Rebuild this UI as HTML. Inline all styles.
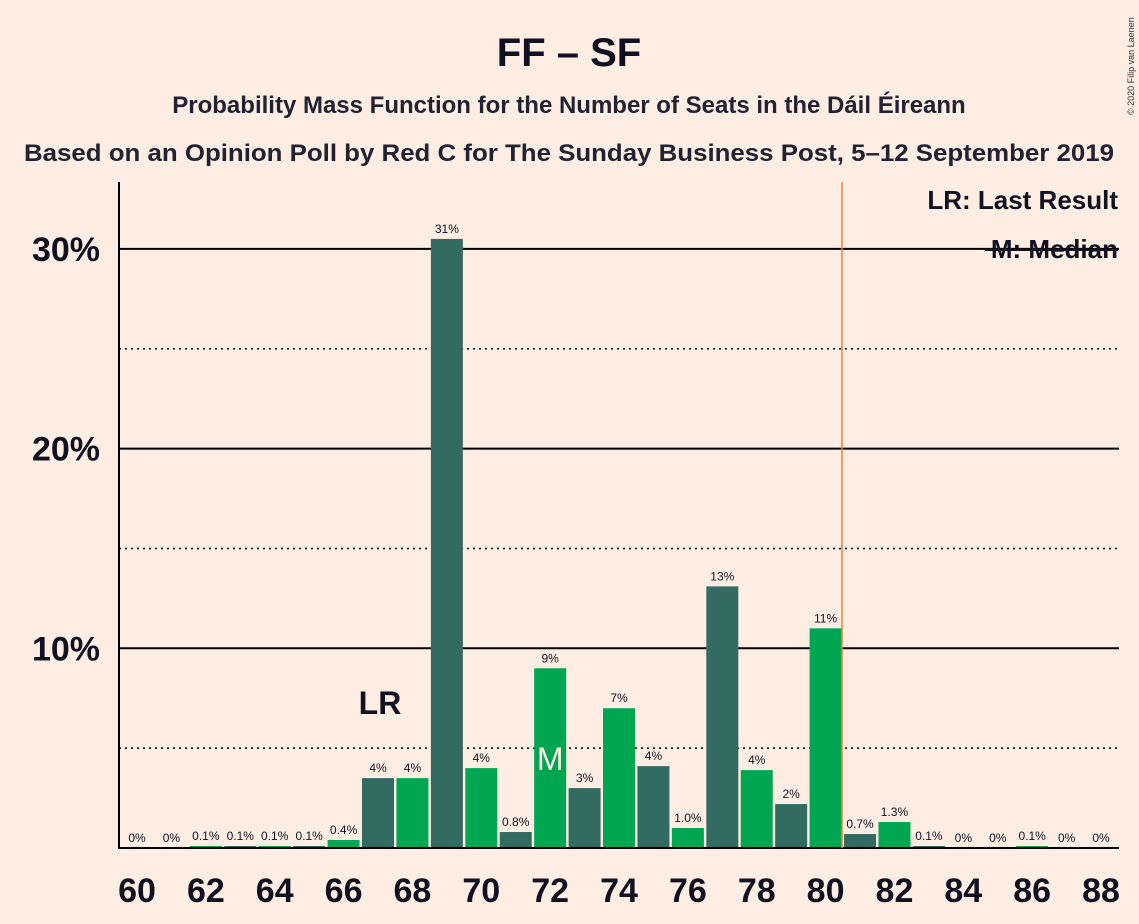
<!DOCTYPE html>
<html><head><meta charset="utf-8"><style>
body{margin:0;background:#fdede2;}
svg{display:block;font-family:"Liberation Sans",sans-serif;}
</style></head><body>
<svg id="c" width="1139" height="924">
<rect width="1139" height="924" fill="#fdede2"/>
<text x="569" y="66" text-anchor="middle" font-size="40" font-weight="bold" fill="#112">FF – SF</text>
<text x="569" y="113" text-anchor="middle" font-size="24" font-weight="bold" fill="#223">Probability Mass Function for the Number of Seats in the Dáil Éireann</text>
<text x="569" y="161" text-anchor="middle" font-size="24" font-weight="bold" fill="#223" textLength="1090" lengthAdjust="spacingAndGlyphs">Based on an Opinion Poll by Red C for The Sunday Business Post, 5–12 September 2019</text>
<text x="1134" y="115" font-size="9" fill="#333" transform="rotate(-90 1134 115)">© 2020 Filip van Laenen</text>
<g id="grid"></g><g id="bars"></g>
<line x1="119" y1="182" x2="119" y2="849" stroke="#000" stroke-width="2"/>
<line x1="119" y1="848" x2="1119" y2="848" stroke="#000" stroke-width="2"/>
<line x1="842" y1="182" x2="842" y2="848" stroke="#f08040" stroke-width="1.5"/>
<text x="1118" y="209" text-anchor="end" font-size="26" font-weight="bold" fill="#112">LR: Last Result</text>
<text x="1118" y="258" text-anchor="end" font-size="26" font-weight="bold" fill="#112">M: Median</text>
<line x1="985" y1="250" x2="1118" y2="250" stroke="#112" stroke-width="2"/>
</svg>
<script>
const seats=[60,61,62,63,64,65,66,67,68,69,70,71,72,73,74,75,76,77,78,79,80,81,82,83,84,85,86,87,88];
const probs=[0,0,0.1,0.1,0.1,0.1,0.4,3.5,3.5,30.5,4,0.8,9,3,7,4.1,1.0,13.1,3.9,2.2,11,0.7,1.3,0.1,0,0,0.1,0,0];
const labels=["0%","0%","0.1%","0.1%","0.1%","0.1%","0.4%","4%","4%","31%","4%","0.8%","9%","3%","7%","4%","1.0%","13%","4%","2%","11%","0.7%","1.3%","0.1%","0%","0%","0.1%","0%","0%"];
const yTicks=[10,20,30];
const yDotted=[5,15,25];
const lastResult=67, median=72;
const NS="http://www.w3.org/2000/svg";
const xs=s=>137+(s-60)*34.43;
const ys=v=>848-v*19.97;
function mk(t,a,p,txt){const e=document.createElementNS(NS,t);for(const k in a)e.setAttribute(k,a[k]);if(txt!==undefined)e.textContent=txt;p.appendChild(e);return e;}
const g=document.getElementById('grid'),b=document.getElementById('bars');
yTicks.forEach(v=>{
 const l=mk('line',{x1:119,x2:1119,y1:ys(v),y2:ys(v),stroke:'#000','stroke-width':2},g);
 
 
 const t=mk('text',{x:100,y:ys(v)+12,'text-anchor':'end','font-size':34,'font-weight':'bold',fill:'#112'},g,v+'%');
 
 
});
yDotted.forEach(v=>{
 const l=mk('line',{x1:119,x2:1119,y1:ys(v),y2:ys(v),stroke:'#000','stroke-width':1.5,'stroke-dasharray':'2,4'},g);
 
 
});
seats.forEach((s,i)=>{
 const x=xs(s),v=probs[i],y=ys(v);
 if(v>0){
  const r=mk('rect',{x:x-16,y:y,width:32,height:848-y,fill:s%2?'#336b63':'#00a651'},b);
  
  
 }
 const t=mk('text',{x:x,y:y-6,'text-anchor':'middle','font-size':12,fill:'#112'},b,labels[i]);
 
 
 if(s%2===0){
  const xt=mk('text',{x:x,y:902,'text-anchor':'middle','font-size':34,'font-weight':'bold',fill:'#112'},b,s);
  
  
 }
});
const lri=seats.indexOf(lastResult);
const lr=mk('text',{x:xs(lastResult)+2,y:ys(probs[lri])-64,'text-anchor':'middle','font-size':32,'font-weight':'bold',fill:'#112'},b,'LR');


const m=mk('text',{x:xs(median),y:ys(probs[seats.indexOf(median)]/2)+12,'text-anchor':'middle','font-size':32,fill:'#fdede2'},b,'M');


</script>
</body></html>
